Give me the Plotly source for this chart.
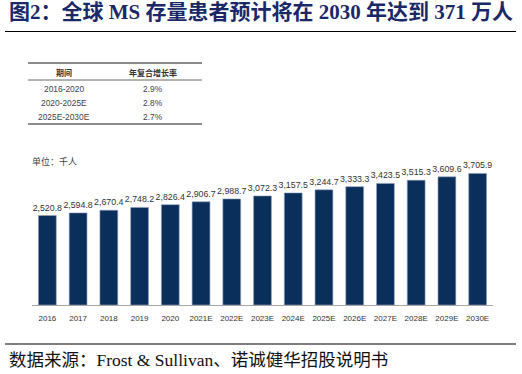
import plotly.graph_objects as go

years = ["2016", "2017", "2018", "2019", "2020", "2021E", "2022E", "2023E",
         "2024E", "2025E", "2026E", "2027E", "2028E", "2029E", "2030E"]
patients = [2520.8, 2594.8, 2670.4, 2748.2, 2826.4, 2906.7, 2988.7, 3072.3,
            3157.5, 3244.7, 3333.3, 3423.5, 3515.3, 3609.6, 3705.9]
table_periods = ["2016-2020", "2020-2025E", "2025E-2030E"]
table_cagr = ["2.9%", "2.8%", "2.7%"]
table_header = ["期间", "年复合增长率"]

W, H = 522, 374
ML, MR, MT, MB = 32, 29, 150, 69
PW, PH = W - ML - MR, H - MT - MB

def px(x):
    return (x - ML) / PW

def py(y):
    return (H - MB - y) / PH

SANS = "Liberation Sans, Arial"

fig = go.Figure()
fig.add_trace(go.Bar(
    x=years, y=patients,
    marker=dict(color="#0b2f5b", line=dict(color="#8fa3bf", width=0.6)),
    width=0.58,
    text=[f"{v:,.1f}" for v in patients],
    textposition="outside",
    textangle=0,
    constraintext="none",
    textfont=dict(family=SANS, size=8.8, color="#333333"),
    cliponaxis=False,
    hoverinfo="skip",
))

shapes = []
annotations = []

# Title and rules
annotations.append(dict(text="<b>图2：全球 MS 存量患者预计将在 2030 年达到 371 万人</b>",
                        xref="paper", yref="paper", x=px(7), y=py(12), xanchor="left", yanchor="middle",
                        showarrow=False,
                        font=dict(family="Liberation Serif, Noto Sans CJK SC", size=21, color="#1b2868")))
shapes.append(dict(type="line", xref="paper", yref="paper", x0=px(5), x1=px(516), y0=py(31.5), y1=py(31.5),
                   line=dict(color="#000000", width=1.2)))
shapes.append(dict(type="line", xref="paper", yref="paper", x0=px(5), x1=px(516), y0=py(344), y1=py(344),
                   line=dict(color="#000000", width=1.2)))
annotations.append(dict(text="数据来源：Frost & Sullivan、诺诚健华招股说明书",
                        xref="paper", yref="paper", x=px(7), y=py(360), xanchor="left", yanchor="middle",
                        showarrow=False,
                        font=dict(family="Liberation Serif, Noto Sans CJK SC", size=17.5, color="#111111")))

# Table
for yy, w in [(63, 1.6), (80, 1), (124, 1.6)]:
    shapes.append(dict(type="line", xref="paper", yref="paper", x0=px(28), x1=px(202), y0=py(yy), y1=py(yy),
                       line=dict(color="#666666", width=w)))
tfont = dict(family=SANS, size=8.4, color="#444444")
hfont = dict(family="Noto Sans CJK SC", size=8, color="#333333")
annotations.append(dict(text="<b>" + table_header[0] + "</b>", xref="paper", yref="paper", x=px(64), y=py(72),
                        showarrow=False, xanchor="center", yanchor="middle", font=hfont))
annotations.append(dict(text="<b>" + table_header[1] + "</b>", xref="paper", yref="paper", x=px(153), y=py(72),
                        showarrow=False, xanchor="center", yanchor="middle", font=hfont))
for i, (p, c) in enumerate(zip(table_periods, table_cagr)):
    yy = 89 + 14 * i
    annotations.append(dict(text=p, xref="paper", yref="paper", x=px(64), y=py(yy), showarrow=False,
                            xanchor="center", yanchor="middle", font=tfont))
    annotations.append(dict(text=c, xref="paper", yref="paper", x=px(153), y=py(yy), showarrow=False,
                            xanchor="center", yanchor="middle", font=tfont))

annotations.append(dict(text="单位：千人", xref="paper", yref="paper", x=px(30), y=py(161), showarrow=False,
                        xanchor="left", yanchor="middle",
                        font=dict(family="Noto Sans CJK SC", size=9, color="#444444")))

fig.update_layout(
    width=W, height=H,
    margin=dict(l=ML, r=MR, t=MT, b=MB, pad=0, autoexpand=False),
    paper_bgcolor="white", plot_bgcolor="white",
    showlegend=False,
    hovermode=False,
    shapes=shapes, annotations=annotations,
    xaxis=dict(type="category", showline=True, linecolor="#a6a6a6", linewidth=1, ticks="", showgrid=False,
               tickangle=0, automargin=False, fixedrange=True,
               tickfont=dict(family=SANS, size=8, color="#333333"),
               ticklabelstandoff=5),
    yaxis=dict(visible=False, range=[0, 4366], showgrid=False, automargin=False, fixedrange=True),
)

fig.write_html("out.html", config={"displayModeBar": False, "staticPlot": True},
               post_script="document.body.style.margin='0';document.body.style.padding='0';")
